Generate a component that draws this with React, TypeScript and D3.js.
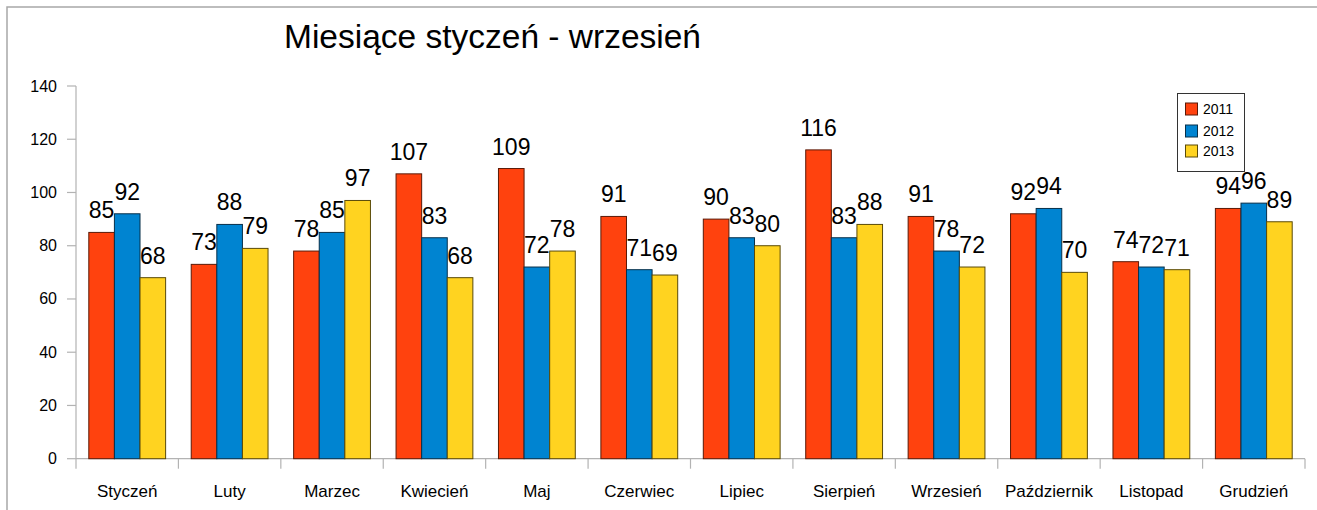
import React from "react";
import * as d3 from "d3";

const months = ["Styczeń", "Luty", "Marzec", "Kwiecień", "Maj", "Czerwiec", "Lipiec", "Sierpień", "Wrzesień", "Październik", "Listopad", "Grudzień"];
const seriesNames = ["2011", "2012", "2013"];
const values2011 = [85, 73, 78, 107, 109, 91, 90, 116, 91, 92, 74, 94];
const values2012 = [92, 88, 85, 83, 72, 71, 83, 83, 78, 94, 72, 96];
const values2013 = [68, 79, 97, 68, 78, 69, 80, 88, 72, 70, 71, 89];
const yTicks = [0, 20, 40, 60, 80, 100, 120, 140];
const colors = ["#FF420E", "#0084D1", "#FFD320"];
const strokes = ["#5a1a08", "#08304a", "#5a4a08"];
const titleText = "Miesiące styczeń - wrzesień";

const font = "'Liberation Sans', Arial, sans-serif";

export default function App() {
  const W = 1317, H = 510;
  const left = 76, right = 1305, top = 86, bottom = 458.7;
  const seriesValues = [values2011, values2012, values2013];

  const x0 = d3.scaleBand<string>().domain(months).range([left, right]).paddingInner(0).paddingOuter(0);
  const x1 = d3.scaleBand<string>().domain(seriesNames).range([0, x0.bandwidth()]).paddingInner(0).paddingOuter(0.5);
  const y = d3.scaleLinear().domain([0, 140]).range([bottom, top]);

  const gray = "#b3b3b3";

  return (
    <svg width={W} height={H} style={{ position: "absolute", left: 0, top: 0, background: "#fff" }} fontFamily={font}>
      <rect x={7} y={7} width={W + 20} height={H + 20} fill="#fff" stroke="#a8a8a8" strokeWidth={1.5} />
      <text x={492.5} y={48} textAnchor="middle" fontSize={33.5} fill="#000">{titleText}</text>

      {/* y axis */}
      <line x1={left} x2={left} y1={top} y2={bottom} stroke={gray} strokeWidth={1.2} />
      {yTicks.map((t) => (
        <g key={t}>
          <line x1={left - 9} x2={left} y1={y(t)} y2={y(t)} stroke={gray} strokeWidth={1.2} />
          <text x={57} y={y(t) + 5.5} textAnchor="end" fontSize={16} fill="#000">{t}</text>
        </g>
      ))}

      {/* x axis */}
      <line x1={left} x2={right} y1={bottom} y2={bottom} stroke={gray} strokeWidth={1.2} />
      {months.map((m, i) => (
        <line key={"t" + i} x1={x0(m)!} x2={x0(m)!} y1={bottom} y2={bottom + 10} stroke={gray} strokeWidth={1.2} />
      ))}
      <line x1={right} x2={right} y1={bottom} y2={bottom + 10} stroke={gray} strokeWidth={1.2} />
      {months.map((m) => (
        <text key={"l" + m} x={x0(m)! + x0.bandwidth() / 2} y={496.5} textAnchor="middle" fontSize={17} fill="#000">{m}</text>
      ))}

      {/* bars */}
      {months.map((m, i) => (
        <g key={"g" + m} transform={`translate(${x0(m)},0)`}>
          {seriesNames.map((s, k) => {
            const v = seriesValues[k][i];
            const bx = x1(s)!;
            return (
              <rect key={s} x={bx} y={y(v)} width={x1.bandwidth()} height={bottom - y(v)} fill={colors[k]} stroke={strokes[k]} strokeWidth={1} />
            );
          })}
        </g>
      ))}
      {/* value labels */}
      {months.map((m, i) => (
        <g key={"v" + m} transform={`translate(${x0(m)},0)`}>
          {seriesNames.map((s, k) => {
            const v = seriesValues[k][i];
            return (
              <text key={s} x={x1(s)! + x1.bandwidth() / 2} y={y(v) - 14} textAnchor="middle" fontSize={23} fill="#000">{v}</text>
            );
          })}
        </g>
      ))}

      {/* legend */}
      <rect x={1177.5} y={93.5} width={67} height={78} fill="#fff" stroke="#333" strokeWidth={1} />
      {seriesNames.map((s, k) => {
        const cy = [109, 131, 151][k];
        return (
          <g key={"lg" + s}>
            <rect x={1185.5} y={cy - 6} width={12} height={12} fill={colors[k]} stroke={strokes[k]} strokeWidth={1} />
            <text x={1203} y={cy + 5} fontSize={14} fill="#000">{s}</text>
          </g>
        );
      })}
    </svg>
  );
}
